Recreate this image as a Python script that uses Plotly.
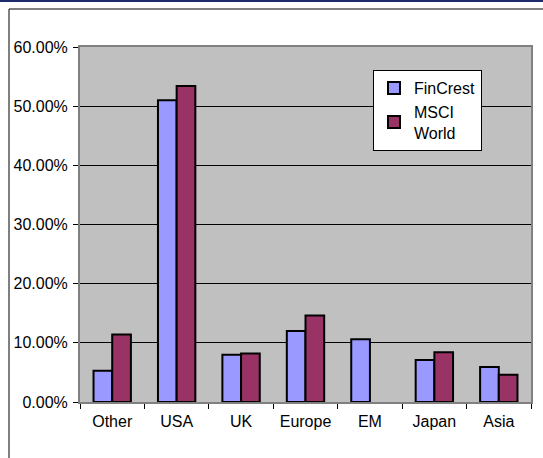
import plotly.graph_objects as go

categories = ["Other", "USA", "UK", "Europe", "EM", "Japan", "Asia"]
fincrest = [0.053, 0.510, 0.080, 0.120, 0.106, 0.071, 0.059]
msci_world = [0.114, 0.534, 0.082, 0.146, None, 0.084, 0.046]
y_ticks = [0, 0.1, 0.2, 0.3, 0.4, 0.5, 0.6]

W, H = 543, 458
L, R, T, B = 80, 12, 47, 56
pw, ph = W - L - R, H - T - B

def px_x(p):
    return (p - L) / pw

def px_y(p):
    return (H - B - p) / ph

FS = 16

fig = go.Figure()
fig.add_trace(go.Bar(x=categories, y=fincrest, name="FinCrest",
                     marker=dict(color="#9999FF", line=dict(color="black", width=2))))
fig.add_trace(go.Bar(x=categories, y=msci_world, name="MSCI<br>World",
                     marker=dict(color="#993366", line=dict(color="black", width=2))))

fig.update_layout(
    width=W, height=H,
    margin=dict(l=L, r=R, t=T, b=B, autoexpand=False),
    paper_bgcolor="white",
    plot_bgcolor="#C0C0C0",
    font=dict(family="Arial", size=FS, color="black"),
    barmode="group",
    bargap=0.42,
    bargroupgap=0,
    showlegend=True,
    legend=dict(x=px_x(373), y=px_y(70), xanchor="left", yanchor="top",
                bgcolor="white", bordercolor="black", borderwidth=1,
                font=dict(family="Arial", size=FS), tracegroupgap=0, itemwidth=30),
    shapes=[
        dict(type="rect", xref="paper", yref="paper",
             x0=px_x(9), x1=px_x(560), y0=px_y(9), y1=px_y(470),
             line=dict(color="black", width=1), fillcolor="rgba(0,0,0,0)", layer="below"),
        dict(type="line", xref="paper", yref="paper",
             x0=px_x(-5), x1=px_x(560), y0=px_y(1), y1=px_y(1),
             line=dict(color="#1F2A6B", width=2)),
    ],
)
fig.update_xaxes(
    type="category", tickson="boundaries", ticks="outside", ticklen=5, tickangle=0,
    automargin=False, ticklabelstandoff=4,
    tickcolor="black", showline=True, linecolor="#808080", linewidth=2, mirror=True,
    showgrid=False, tickfont=dict(family="Arial", size=FS),
)
fig.update_yaxes(
    range=[0, 0.6], tickvals=y_ticks, tickformat=".2%", ticks="outside", ticklen=5,
    automargin=False, ticklabelstandoff=2,
    tickcolor="black", showline=True, linecolor="#808080", linewidth=2, mirror=True,
    showgrid=True, gridcolor="black", gridwidth=1, zeroline=False,
    tickfont=dict(family="Arial", size=FS),
)

fig.write_html("out.html")
